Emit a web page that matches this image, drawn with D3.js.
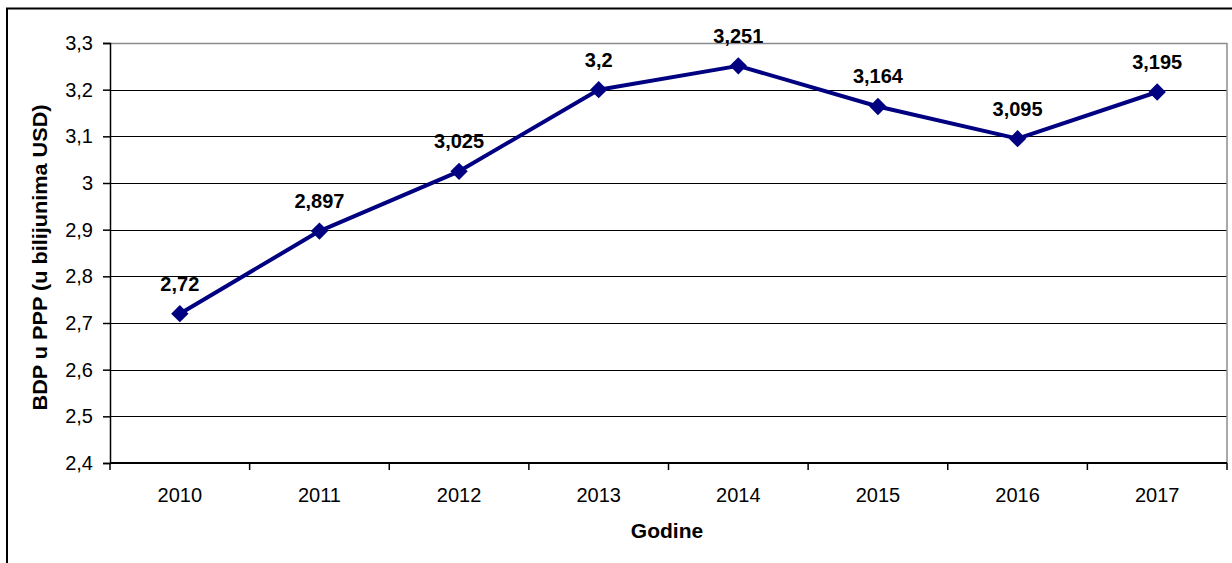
<!DOCTYPE html>
<html>
<head>
<meta charset="utf-8">
<script src="https://cdn.jsdelivr.net/npm/d3@7/dist/d3.min.js"></script>
<style>
  html, body { margin: 0; padding: 0; background: #fff; }
  svg { display: block; }
  text { font-family: "Liberation Sans", Arial, sans-serif; fill: #000; }
</style>
</head>
<body>
<svg id="chart" width="1232" height="563"></svg>
<script>
// Data
const years = ["2010", "2011", "2012", "2013", "2014", "2015", "2016", "2017"];
const gdpValues = [2.72, 2.897, 3.025, 3.2, 3.251, 3.164, 3.095, 3.195];
const valueLabels = ["2,72", "2,897", "3,025", "3,2", "3,251", "3,164", "3,095", "3,195"];
const yTicks = [2.4, 2.5, 2.6, 2.7, 2.8, 2.9, 3.0, 3.1, 3.2, 3.3];
const yTitle = "BDP u PPP (u bilijunima USD)";
const xTitle = "Godine";

const svg = d3.select("#chart");
const W = 1232, H = 563;
const plot = { left: 110, top: 43, right: 1227, bottom: 463 };

// outer frame (extends past the right/bottom edges)
svg.append("rect")
  .attr("x", 7).attr("y", 8.5)
  .attr("width", W + 20).attr("height", H + 20)
  .attr("fill", "none").attr("stroke", "#000").attr("stroke-width", 2);

const x = d3.scaleBand().domain(years).range([plot.left, plot.right]).paddingInner(0).paddingOuter(0);
const y = d3.scaleLinear().domain([2.4, 3.3]).range([plot.bottom, plot.top]);
const fmt = v => (Math.round(v * 10) / 10).toString().replace(".", ",");

// gridlines
svg.append("g").selectAll("line")
  .data(yTicks.filter(t => t > 2.4 && t < 3.3))
  .join("line")
  .attr("x1", plot.left).attr("x2", plot.right)
  .attr("y1", d => Math.round(y(d)) + 0.5).attr("y2", d => Math.round(y(d)) + 0.5)
  .attr("stroke", "#000").attr("stroke-width", 1);

// plot border (top & right gray)
svg.append("line")
  .attr("x1", plot.left).attr("x2", plot.right)
  .attr("y1", plot.top + 0.5).attr("y2", plot.top + 0.5)
  .attr("stroke", "#8c8c8c").attr("stroke-width", 1.5);
svg.append("line")
  .attr("x1", plot.right).attr("x2", plot.right)
  .attr("y1", plot.top).attr("y2", plot.bottom)
  .attr("stroke", "#8c8c8c").attr("stroke-width", 1.5);

// Y axis
const yAxis = d3.axisLeft(y).tickValues(yTicks).tickSize(7).tickPadding(10).tickFormat(fmt);
const gy = svg.append("g").attr("transform", `translate(${plot.left},0)`).call(yAxis);
gy.select(".domain").attr("stroke", "#000").attr("stroke-width", 1.5);
gy.selectAll(".tick line").attr("stroke", "#000").attr("stroke-width", 1.5);
gy.selectAll(".tick text").style("font-size", "20px").attr("fill", "#000")
  .style("font-family", "'Liberation Sans', Arial, sans-serif");

// X axis with ticks at category boundaries
const gx = svg.append("g").attr("transform", `translate(0,${plot.bottom})`);
gx.append("line").attr("x1", plot.left).attr("x2", plot.right)
  .attr("y1", 0).attr("y2", 0).attr("stroke", "#000").attr("stroke-width", 2);
const boundaries = years.map(d => x(d)).concat([x(years[years.length - 1]) + x.bandwidth()]);
gx.selectAll("line.tk").data(boundaries).join("line").attr("class", "tk")
  .attr("x1", d => d).attr("x2", d => d).attr("y1", 0).attr("y2", 7)
  .attr("stroke", "#000").attr("stroke-width", 1.5);
gx.selectAll("text").data(years).join("text")
  .attr("x", d => x(d) + x.bandwidth() / 2).attr("y", 38.5)
  .attr("text-anchor", "middle").style("font-size", "20px").text(d => d);

// line
const cx = d => x(d) + x.bandwidth() / 2;
const line = d3.line().x((d, i) => cx(years[i])).y(d => y(d));
svg.append("path").datum(gdpValues)
  .attr("d", line).attr("fill", "none")
  .attr("stroke", "#000080").attr("stroke-width", 4).attr("stroke-linejoin", "round");

// diamond markers
const diamond = d3.symbol().type(d3.symbolSquare).size(150);
svg.append("g").selectAll("path").data(gdpValues).join("path")
  .attr("d", diamond)
  .attr("transform", (d, i) => `translate(${cx(years[i])},${y(d)}) rotate(45)`)
  .attr("fill", "#000080");

// data labels
svg.append("g").selectAll("text").data(gdpValues).join("text")
  .attr("x", (d, i) => cx(years[i])).attr("y", d => y(d) - 23)
  .attr("text-anchor", "middle")
  .style("font-size", "20px").style("font-weight", "bold")
  .text((d, i) => valueLabels[i]);

// axis titles
svg.append("text")
  .attr("transform", "translate(47,257.5) rotate(-90)")
  .attr("text-anchor", "middle")
  .attr("textLength", 306).attr("lengthAdjust", "spacingAndGlyphs")
  .style("font-size", "20px").style("font-weight", "bold")
  .text(yTitle);
svg.append("text")
  .attr("x", 667).attr("y", 538)
  .attr("text-anchor", "middle")
  .style("font-size", "21px").style("font-weight", "bold")
  .text(xTitle);
</script>
</body>
</html>
